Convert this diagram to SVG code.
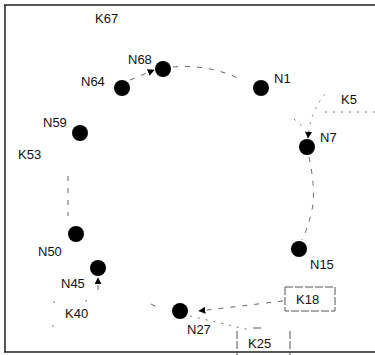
<svg xmlns="http://www.w3.org/2000/svg" width="375" height="355" viewBox="0 0 375 355">
<defs>
<style>
.frame{stroke:#222;stroke-width:1.5;fill:none}
.node{fill:#000}
.lbl{font-family:"Liberation Sans",Arial,sans-serif;font-size:13px;fill:#111}
.dash{stroke:#666;stroke-width:1;fill:none;stroke-dasharray:5 7}
.dot{stroke:#777;stroke-width:1;fill:none;stroke-dasharray:2 6}
.box{stroke:#555;stroke-width:1;fill:none;stroke-dasharray:8 2}
</style>
<marker id="ah" viewBox="0 0 10 10" refX="9" refY="5" markerWidth="7" markerHeight="7" markerUnits="userSpaceOnUse" orient="auto">
<path d="M0,0 L10,5 L0,10 z" fill="#000"/>
</marker>
</defs>
<rect width="375" height="355" fill="#fff"/>
<g id="frame">
<path class="frame" d="M4,5 L375,5 M5,5 L5,352 M4,352 L375,352"/>
</g>
<g id="connectors">
<path class="dash" d="M173,67 Q210,64 242,80"/>
<path class="dash" d="M130,80 L154,70" marker-end="url(#ah)"/>
<path class="dash" d="M309,157 Q316,190 312,210 Q308,228 302,240"/>
<path class="dash" d="M68,176 L68,216"/>
<path class="dot" d="M375,112 L322,112"/>
<path class="dot" d="M325,94 Q310,112 308,138" marker-end="url(#ah)"/>
<path class="dot" d="M294,119 L302,126"/>
<path class="dash" d="M283,301 L199,311" marker-end="url(#ah)"/>
<path class="dot" d="M190,316 L250,330"/>
<path class="dash" d="M151,304 L157,307"/>
<path class="dash" d="M98,290 L98,278" marker-end="url(#ah)"/>
<path class="dot" d="M53,302 L57,302 M85,301 L89,300 M53,325 L53,329"/>
</g>
<g id="N68"><circle class="node" cx="163" cy="69" r="8"/><text class="lbl" x="128" y="64">N68</text></g>
<g id="N64"><circle class="node" cx="122" cy="88" r="8"/><text class="lbl" x="81" y="86">N64</text></g>
<g id="N1"><circle class="node" cx="261" cy="88" r="8"/><text class="lbl" x="274" y="83">N1</text></g>
<g id="N7"><circle class="node" cx="307" cy="147" r="8"/><text class="lbl" x="320" y="142">N7</text></g>
<g id="N15"><circle class="node" cx="299" cy="249" r="8"/><text class="lbl" x="310" y="269">N15</text></g>
<g id="N27"><circle class="node" cx="180" cy="311" r="8"/><text class="lbl" x="187" y="334">N27</text></g>
<g id="N45"><circle class="node" cx="98" cy="268" r="8"/><text class="lbl" x="61" y="288">N45</text></g>
<g id="N50"><circle class="node" cx="76" cy="234" r="8"/><text class="lbl" x="38" y="256">N50</text></g>
<g id="N59"><circle class="node" cx="80" cy="133" r="8"/><text class="lbl" x="43" y="127">N59</text></g>
<g id="K67"><text class="lbl" x="95" y="23">K67</text></g>
<g id="K5"><text class="lbl" x="341" y="104">K5</text></g>
<g id="K53"><text class="lbl" x="18" y="159">K53</text></g>
<g id="K40"><text class="lbl" x="65" y="318">K40</text></g>
<g id="K18"><rect class="box" x="285" y="287" width="50" height="24"/><text class="lbl" x="296" y="304">K18</text></g>
<g id="K25"><path class="box" d="M237,331 L237,355 M290,331 L290,355 M253,328 L262,328"/><text class="lbl" x="248" y="348">K25</text></g>
</svg>
